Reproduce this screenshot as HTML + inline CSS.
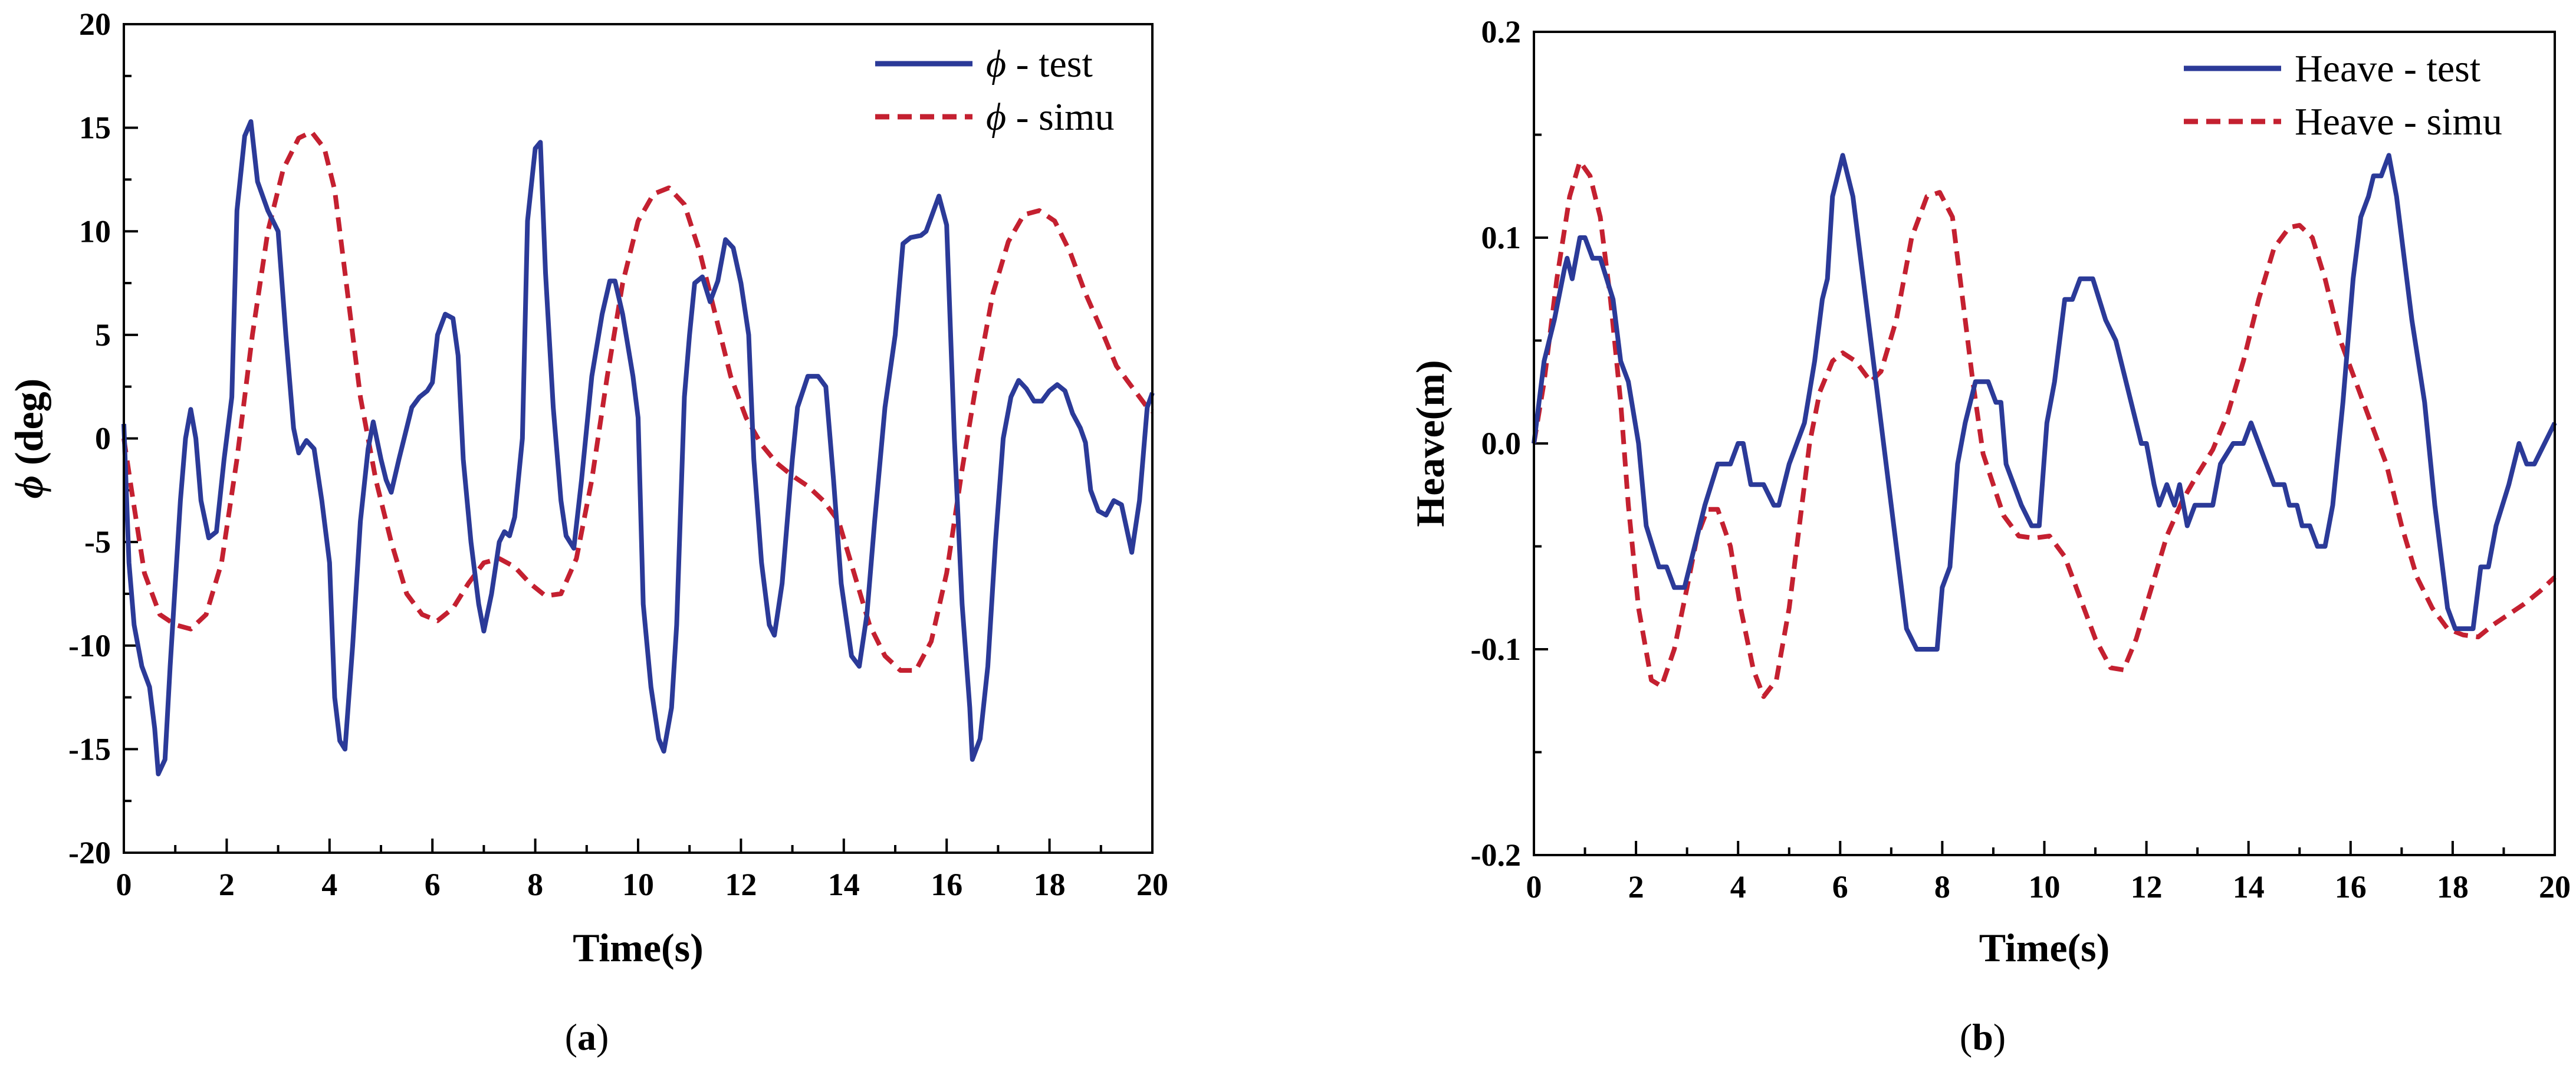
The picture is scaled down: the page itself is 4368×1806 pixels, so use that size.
<!DOCTYPE html>
<html><head><meta charset="utf-8"><style>
html,body{margin:0;padding:0;background:#fff;}
svg{display:block;}
text{font-family:"Liberation Serif",serif;}
</style></head><body>
<svg id="fig" width="4368" height="1806" viewBox="0 0 4368 1806" xmlns="http://www.w3.org/2000/svg"></svg>
<script>
const phiTestT=[0,0.1,0.2,0.35,0.5,0.6,0.67,0.8,0.9,1.0,1.1,1.2,1.3,1.4,1.5,1.65,1.8,1.95,2.1,2.2,2.35,2.47,2.6,2.8,3.0,3.15,3.3,3.4,3.55,3.7,3.85,4.0,4.1,4.2,4.3,4.45,4.6,4.75,4.85,5.0,5.1,5.2,5.35,5.6,5.75,5.9,6.0,6.1,6.25,6.4,6.5,6.6,6.75,6.9,7.0,7.15,7.3,7.4,7.5,7.6,7.75,7.85,8.0,8.1,8.2,8.35,8.5,8.6,8.75,8.9,9.1,9.3,9.45,9.55,9.7,9.9,10.0,10.1,10.25,10.4,10.5,10.65,10.75,10.9,11.0,11.1,11.25,11.4,11.55,11.7,11.85,12.0,12.15,12.25,12.4,12.55,12.65,12.8,13.0,13.1,13.3,13.5,13.65,13.8,13.95,14.15,14.3,14.45,14.6,14.8,15.0,15.15,15.3,15.5,15.6,15.85,16.0,16.15,16.3,16.45,16.5,16.65,16.8,16.95,17.1,17.25,17.4,17.55,17.7,17.85,18.0,18.15,18.3,18.45,18.6,18.7,18.8,18.95,19.1,19.25,19.4,19.6,19.75,19.9,20];
const phiTestV=[0.7,-6,-9,-11,-12,-14,-16.2,-15.5,-11,-7,-3,0,1.4,0,-3,-4.8,-4.5,-1,2,11,14.6,15.3,12.4,11,10,5,0.5,-0.7,-0.1,-0.5,-3,-6,-12.5,-14.6,-15,-10,-4,-0.5,0.8,-1,-2,-2.6,-1,1.5,2,2.3,2.7,5,6,5.8,4,-1,-5,-8,-9.3,-7.5,-5,-4.5,-4.7,-3.8,0,10.5,14,14.3,8,1.5,-3,-4.7,-5.3,-2,3,6,7.6,7.6,6,3,1,-8,-12,-14.5,-15.1,-13,-9,2,5,7.5,7.8,6.6,7.6,9.6,9.2,7.5,5,-1,-6,-9,-9.5,-7,-1,1.5,3,3,2.5,-2,-7,-10.5,-11,-8.5,-4,1.5,5,9.4,9.7,9.8,10,11.7,10.3,0,-8,-13,-15.5,-14.5,-11,-5,0,2,2.8,2.4,1.8,1.8,2.3,2.6,2.3,1.2,0.5,-0.2,-2.5,-3.5,-3.7,-3,-3.2,-5.5,-3,1.5,2.2];
const phiSimT=[0,0.15,0.4,0.7,1.0,1.3,1.6,1.9,2.2,2.5,2.8,3.1,3.4,3.65,3.9,4.1,4.3,4.6,4.9,5.2,5.5,5.8,6.1,6.4,6.7,7.0,7.3,7.6,7.9,8.2,8.5,8.8,9.1,9.4,9.7,10.0,10.3,10.6,10.9,11.2,11.5,11.8,12.1,12.4,12.7,13.0,13.3,13.6,13.9,14.2,14.5,14.8,15.1,15.4,15.7,16.0,16.3,16.6,16.9,17.2,17.5,17.8,18.1,18.4,18.7,19.0,19.3,19.6,19.9,20];
const phiSimV=[0,-2.5,-6.5,-8.5,-9,-9.2,-8.5,-6,-1,5,10,13,14.5,14.8,14,12,8,2,-2,-5,-7.5,-8.5,-8.8,-8.2,-7,-6,-5.8,-6.2,-7,-7.6,-7.5,-5.8,-2,3,7.5,10.5,11.8,12.1,11.3,9,6,3,1,-0.3,-1.2,-1.8,-2.3,-3,-4,-6.5,-9,-10.5,-11.2,-11.2,-9.8,-6.5,-1.5,3,7,9.5,10.8,11,10.5,9,7,5.3,3.5,2.5,1.5,1.3];
const heaveTestT=[0,0.2,0.4,0.6,0.65,0.75,0.9,1.0,1.15,1.3,1.55,1.7,1.85,2.05,2.2,2.45,2.6,2.75,2.95,3.15,3.35,3.6,3.85,4.0,4.1,4.25,4.5,4.7,4.8,5.0,5.3,5.5,5.65,5.75,5.85,6.05,6.25,6.5,6.7,6.9,7.1,7.3,7.5,7.9,8.0,8.15,8.3,8.45,8.65,8.9,9.05,9.15,9.25,9.55,9.75,9.9,10.05,10.2,10.4,10.55,10.7,10.95,11.2,11.4,11.6,11.8,11.9,12.0,12.15,12.25,12.4,12.55,12.65,12.8,12.95,13.3,13.45,13.7,13.9,14.05,14.2,14.35,14.5,14.7,14.8,14.95,15.05,15.2,15.35,15.5,15.65,15.85,16.05,16.2,16.35,16.45,16.6,16.75,16.9,17.2,17.45,17.65,17.9,18.05,18.4,18.55,18.7,18.85,19.1,19.3,19.45,19.6,19.8,20];
const heaveTestV=[0,0.04,0.06,0.085,0.09,0.08,0.1,0.1,0.09,0.09,0.07,0.04,0.03,0,-0.04,-0.06,-0.06,-0.07,-0.07,-0.05,-0.03,-0.01,-0.01,0,0,-0.02,-0.02,-0.03,-0.03,-0.01,0.01,0.04,0.07,0.08,0.12,0.14,0.12,0.07,0.03,-0.01,-0.05,-0.09,-0.1,-0.1,-0.07,-0.06,-0.01,0.01,0.03,0.03,0.02,0.02,-0.01,-0.03,-0.04,-0.04,0.01,0.03,0.07,0.07,0.08,0.08,0.06,0.05,0.03,0.01,0,0,-0.02,-0.03,-0.02,-0.03,-0.02,-0.04,-0.03,-0.03,-0.01,0,0,0.01,0,-0.01,-0.02,-0.02,-0.03,-0.03,-0.04,-0.04,-0.05,-0.05,-0.03,0.02,0.08,0.11,0.12,0.13,0.13,0.14,0.12,0.06,0.02,-0.03,-0.08,-0.09,-0.09,-0.06,-0.06,-0.04,-0.02,0,-0.01,-0.01,0,0.01];
const heaveSimT=[0,0.2,0.45,0.7,0.9,1.1,1.3,1.5,1.7,1.85,2.05,2.3,2.5,2.75,3.0,3.2,3.4,3.6,3.85,4.05,4.3,4.5,4.75,5.0,5.2,5.4,5.6,5.85,6.05,6.3,6.6,6.8,7.1,7.4,7.7,7.95,8.2,8.4,8.6,8.8,9.0,9.2,9.5,9.8,10.1,10.4,10.7,11.0,11.3,11.55,11.8,12.1,12.4,12.7,13.0,13.3,13.6,13.9,14.2,14.5,14.8,15.0,15.25,15.5,15.8,16.1,16.4,16.7,17.0,17.3,17.6,17.9,18.2,18.5,18.8,19.1,19.4,19.7,20];
const heaveSimV=[0,0.03,0.08,0.12,0.137,0.13,0.11,0.07,0.02,-0.03,-0.08,-0.115,-0.118,-0.1,-0.07,-0.045,-0.032,-0.032,-0.05,-0.08,-0.11,-0.123,-0.115,-0.08,-0.04,0,0.025,0.04,0.044,0.04,0.03,0.035,0.06,0.1,0.12,0.122,0.11,0.07,0.03,-0.005,-0.02,-0.035,-0.045,-0.046,-0.045,-0.055,-0.075,-0.095,-0.109,-0.11,-0.095,-0.07,-0.045,-0.028,-0.015,-0.003,0.015,0.04,0.07,0.095,0.105,0.106,0.1,0.08,0.05,0.03,0.01,-0.01,-0.04,-0.065,-0.08,-0.09,-0.093,-0.094,-0.088,-0.083,-0.078,-0.072,-0.065];
const xTicks=[0,2,4,6,8,10,12,14,16,18,20];
const phiTicks=[-20,-15,-10,-5,0,5,10,15,20];
const heaveTicks=[-0.2,-0.1,0.0,0.1,0.2];
const heaveTickLabels=["-0.2","-0.1","0.0","0.1","0.2"];

const NS="http://www.w3.org/2000/svg";
const svg=document.getElementById('fig');
function mk(tag,attrs,parent){const e=document.createElementNS(NS,tag);for(const k in attrs)e.setAttribute(k,attrs[k]);(parent||svg).appendChild(e);return e;}

function chart(cfg){
  const g=mk('g',{});
  
  
  const {L,R,T,B,ymin,ymax}=cfg;
  const sx=t=>L+(t-0)/(20-0)*(R-L);
  const sy=v=>B-(v-ymin)/(ymax-ymin)*(B-T);
  for(let t=0;t<=20;t+=1){const major=t%2===0;const l=mk('line',{x1:sx(t),x2:sx(t),y1:B,y2:B-(major?24:13),stroke:'#000','stroke-width':4},g);
    }
  const step=(ymax-ymin)/(cfg.ticks.length-1)/2;
  for(let i=0;i<=(cfg.ticks.length-1)*2;i++){const v=ymin+i*step;const major=i%2===0;const l=mk('line',{x1:L,x2:L+(major?24:13),y1:sy(v),y2:sy(v),stroke:'#000','stroke-width':4},g);
    }
  xTicks.forEach(t=>{const tx=mk('text',{x:sx(t),y:B+72,'text-anchor':'middle','font-size':54,'font-weight':'bold'},g);tx.textContent=t;
    });
  cfg.ticks.forEach((v,i)=>{const tx=mk('text',{x:L-22,y:sy(v)+18,'text-anchor':'end','font-size':54,'font-weight':'bold'},g);tx.textContent=cfg.tickLabels[i];
    });
  function line(ts,vs,color,dash,name){const d=ts.map((t,i)=>(i?'L':'M')+sx(t).toFixed(1)+','+sy(vs[i]).toFixed(1)).join('');
    const p=mk('path',{d:d,fill:'none',stroke:color,'stroke-width':8,'stroke-linejoin':'round','stroke-dasharray':dash||'none'},g);
    }
  line(cfg.simT,cfg.simV,'#c42030','24,14',cfg.name+'-simu-line');
  line(cfg.testT,cfg.testV,'#2b3a98',null,cfg.name+'-test-line');
  const f=mk('rect',{x:L,y:T,width:R-L,height:B-T,fill:'none',stroke:'#000','stroke-width':4},g);
  
  const lg=mk('g',{},g);
  mk('line',{x1:cfg.lx,x2:cfg.lx+165,y1:cfg.ly,y2:cfg.ly,stroke:'#2b3a98','stroke-width':9},lg);
  mk('line',{x1:cfg.lx,x2:cfg.lx+165,y1:cfg.ly+90,y2:cfg.ly+90,stroke:'#c42030','stroke-width':9,'stroke-dasharray':'24,14'},lg);
  const t1=mk('text',{x:cfg.lx+188,y:cfg.ly+22,'font-size':66},lg);t1.innerHTML=cfg.leg1;
  
  const t2=mk('text',{x:cfg.lx+188,y:cfg.ly+112,'font-size':66},lg);t2.innerHTML=cfg.leg2;
  
  const xt=mk('text',{x:(L+R)/2,y:1630,'text-anchor':'middle','font-size':68,'font-weight':'bold'},g);xt.textContent='Time(s)';
  
  const yt=mk('text',{x:0,y:0,'text-anchor':'middle','font-size':68,'font-weight':'bold',transform:`translate(${cfg.ytx},${(T+B)/2}) rotate(-90)`},g);yt.innerHTML=cfg.ytitle;
  
  const cp=mk('text',{x:cfg.capx,y:1780,'text-anchor':'middle','font-size':64},g);cp.innerHTML=cfg.cap;
  
}
chart({name:'phi-chart',L:210,R:1954,T:41,B:1446,ymin:-20,ymax:20,ticks:phiTicks,tickLabels:phiTicks.map(String),
  testT:phiTestT,testV:phiTestV,simT:phiSimT,simV:phiSimV,lx:1484,ly:108,
  leg1:'<tspan font-style="italic">ϕ</tspan> - test',leg2:'<tspan font-style="italic">ϕ</tspan> - simu',
  ytx:72,ytitle:'<tspan font-style="italic">ϕ</tspan> (deg)',capx:995,cap:'(<tspan font-weight="bold">a</tspan>)'});
chart({name:'heave-chart',L:2601,R:4332,T:54,B:1450,ymin:-0.2,ymax:0.2,ticks:heaveTicks,tickLabels:heaveTickLabels,
  testT:heaveTestT,testV:heaveTestV,simT:heaveSimT,simV:heaveSimV,lx:3703,ly:116,
  leg1:'Heave - test',leg2:'Heave - simu',ytx:2448,ytitle:'Heave(m)',capx:3362,cap:'(<tspan font-weight="bold">b</tspan>)'});
</script>
</body></html>
